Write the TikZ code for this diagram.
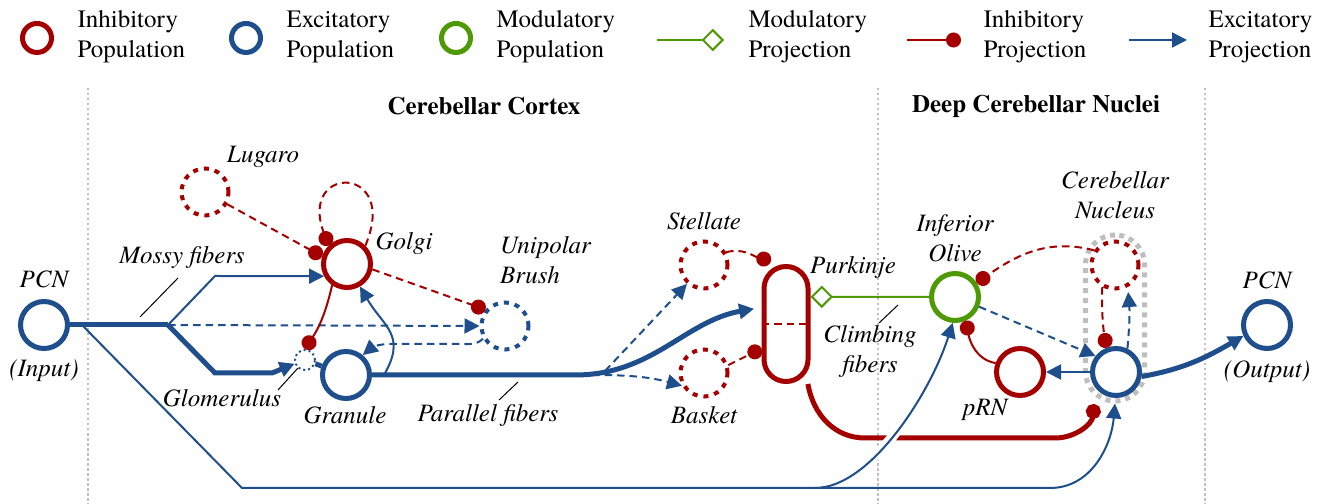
\documentclass[tikz,border=0pt]{standalone}
\usepackage{amsmath,amsfonts,amssymb}
\usepackage{fontspec}
\setmainfont{texgyretermes-regular.otf}[BoldFont=texgyretermes-bold.otf,
  ItalicFont=texgyretermes-italic.otf,BoldItalicFont=texgyretermes-bolditalic.otf]
\usepackage{tikz}
\usetikzlibrary{shapes,positioning}
\usetikzlibrary{arrows.meta,calc}

\definecolor{inhred}{HTML}{A50000}
\definecolor{excblue}{HTML}{1F4E8C}
\definecolor{modgreen}{HTML}{4E9A06}
\definecolor{boxgray}{HTML}{BEBEBE}

\tikzset{
  pop/.style={circle,line width=2pt,minimum size=18.8pt,inner sep=0pt,fill=white},
  inhpop/.style={pop,draw=inhred},
  excpop/.style={pop,draw=excblue},
  modpop/.style={pop,draw=modgreen},
  dotpop/.style={line width=1.6pt,dash pattern=on 2pt off 2.4pt},
  legpop/.style={circle,line width=2pt,minimum size=11.6pt,inner sep=0pt},
  lbl/.style={font=\itshape,inner sep=1pt,align=center},
  legtext/.style={anchor=west,align=left,inner sep=0pt},
  excproj/.style={excblue,line width=0.8pt,-{Triangle[length=6pt,width=6pt]}},
  inhproj/.style={inhred,line width=0.8pt,-{Circle[length=6pt]}},
  modproj/.style={modgreen,line width=0.8pt,-{Diamond[fill=white,length=9pt,width=9pt]}},
  fiber/.style={line width=2pt},
  dashline/.style={dash pattern=on 3pt off 2pt},
  pointer/.style={black,line width=0.4pt},
  divider/.style={black!25,line width=0.5pt,dash pattern=on 1pt off 1pt}
}

\begin{document}
\begin{tikzpicture}[x=0.4pt,y=0.4pt]
\useasboundingbox (0,0) rectangle (1323,504);

\draw[divider] (88,416) -- (88,0);
\draw[divider] (878,416) -- (878,0);
\draw[divider] (1205,416) -- (1205,0);

\node[legpop,draw=inhred] (lginh) at (37,466) {};
\node[legtext] (lginhtxt) at (77,467) {Inhibitory\\Population};
\node[legpop,draw=excblue] (lgexc) at (246,466) {};
\node[legtext] (lgexctxt) at (286,467) {Excitatory\\Population};
\node[legpop,draw=modgreen] (lgmod) at (456,466) {};
\node[legtext] (lgmodtxt) at (496,467) {Modulatory\\Population};
\coordinate (lgmpa) at (657,464);
\coordinate (lgmpb) at (724,464);
\draw[modproj] (lgmpa) -- (lgmpb);
\node[legtext] (lgmptxt) at (748,467) {Modulatory\\Projection};
\coordinate (lgipa) at (907,464);
\coordinate (lgipb) at (961,464);
\draw[inhproj] (lgipa) -- (lgipb);
\node[legtext] (lgiptxt) at (983,467) {Inhibitory\\Projection};
\coordinate (lgepa) at (1129,464);
\coordinate (lgepb) at (1187,464);
\draw[excproj] (lgepa) -- (lgepb);
\node[legtext] (lgeptxt) at (1208,467) {Excitatory\\Projection};

\node[font=\bfseries] (cortexhd) at (484,398) {Cerebellar Cortex};
\node[font=\bfseries] (dcnhd) at (1036,398) {Deep Cerebellar Nuclei};

\node[rectangle,rounded corners=11.8pt,minimum width=23.6pt,minimum height=66.4pt,
      draw=boxgray,line width=2pt,dash pattern=on 2pt off 2pt] (cnbox) at (1115,186) {};
\node[excpop] (pcnin) at (44,179) {};
\node[inhpop,dotpop] (lugaro) at (205,312) {};
\node[inhpop] (golgi) at (347,240) {};
\node[circle,draw=excblue,line width=0.8pt,dash pattern=on 0.8pt off 1.2pt,
      minimum size=8pt,inner sep=0pt,fill=white] (glom) at (305,144) {};
\node[excpop] (granule) at (346,129) {};
\node[excpop,dotpop] (ubc) at (505,178) {};
\node[inhpop,dotpop] (stellate) at (704,239) {};
\node[inhpop,dotpop] (basket) at (704,131) {};
\node[rectangle,rounded corners=8.8pt,minimum width=17.6pt,minimum height=46pt,
      inner sep=0pt,draw=inhred,line width=2pt] (purkinje) at (786,180) {};
\node[modpop] (io) at (955,207) {};
\node[inhpop] (prn) at (1020,132) {};
\node[excpop] (cnexc) at (1116,132) {};
\node[inhpop,dotpop] (cninh) at (1115,239) {};
\node[excpop] (pcnout) at (1267,179) {};

\node[lbl] (pcninlbl) at (44,225) {PCN};
\node[lbl] (inputlbl) at (44,133) {(Input)};
\node[lbl] (lugarolbl) at (263,347) {Lugaro};
\node[lbl] (golgilbl) at (404,260) {Golgi};
\node[lbl] (mflbl) at (182,246) {Mossy fibers};
\node[lbl] (glomlbl) at (222,106) {Glomerulus};
\node[lbl] (granulelbl) at (345,89) {Granule};
\node[lbl,align=left,anchor=west] (ubclbl) at (497,244) {Unipolar\\Brush};
\node[lbl] (pflbl) at (488,88) {Parallel fibers};
\node[lbl] (stellatelbl) at (704,283) {Stellate};
\node[lbl] (basketlbl) at (704,89) {Basket};
\node[lbl] (purkinjelbl) at (853,236) {Purkinje};
\node[lbl] (iolbl) at (955,266) {Inferior\\Olive};
\node[lbl] (cflbl) at (870,152) {Climbing\\fibers};
\node[lbl] (prnlbl) at (985,94) {pRN};
\node[lbl] (cnlbl) at (1115,309) {Cerebellar\\Nucleus};
\node[lbl] (pcnoutlbl) at (1267,224) {PCN};
\node[lbl] (outputlbl) at (1267,132) {(Output)};

\coordinate (pcnsplit) at (82,179);
\coordinate (mf) at (168,179);
\coordinate (pf1) at (384,129);
\coordinate (pf2) at (605,133);
\coordinate (pf3) at (592,129);
\coordinate (iobranch) at (815,16);
\coordinate (pkstel) at (771,243);
\coordinate (cnin) at (1094,100);

\draw[excblue,fiber] (pcnin.east) -- (mf);
\draw[excproj,fiber] (mf) -- (215,131) -- (272,131) -- (glom.200);
\draw[excproj] (mf) -- (215,228) -- (golgi.208);
\draw[excproj,dashline] (mf) -- (ubc.west);
\draw[excproj] (pcnsplit) -- (242,16) -- (1050,16) to[out=0,in=-95] (cnbox.south);

\draw[inhproj,dashline] (golgi.45) .. controls (400,340) and (298,340) .. (golgi.135);
\draw[inhproj,dashline] (lugaro) -- (golgi.163);
\draw[inhproj,dashline] (golgi.-12) -- (ubc.140);
\draw[inhproj] (golgi.235) to[bend left=10] (glom.north);
\draw[excblue,fiber] (glom) -- (granule);
\draw[excproj,dashline] (ubc.210) to[out=225,in=0] (460,160) -- (390,160) to[out=180,in=40] (granule.50);
\draw[excproj] (pf1) to[out=60,in=-60,looseness=1.3] (golgi.300);

\draw[excproj,fiber,shorten >=3pt] (granule.east) -- (575,129) to[out=0,in=190] (purkinje.146);
\draw[excproj,dashline] (pf2) -- (stellate.228);
\draw[excproj,dashline] (pf3) to[out=0,in=165] (basket.210);
\draw[inhproj,dashline] (stellate.30) to[out=15,in=165] (pkstel);
\draw[inhproj,dashline] (basket.18) -- (purkinje.225);
\draw[inhred,dashline,line width=0.8pt] (purkinje.west) -- (purkinje.east);
\draw[modproj] (io.west) -- (purkinje.48);

\draw[inhproj,fiber] (purkinje.-70) to[out=-80,in=180] (865,66) -- (1055,66) to[out=0,in=-95] (cnin);
\begin{scope}
\clip (860,40) rectangle (920,95);
\draw[white,line width=4pt] (iobranch) .. controls (870,16) and (930,110) .. (io.265);
\end{scope}
\draw[excproj] (iobranch) .. controls (870,16) and (930,110) .. (io.265);

\draw[inhproj,dashline] (cninh.145) to[out=165,in=35] (io.33);
\draw[excproj,dashline] (io.-22) -- (cnexc.142);
\draw[inhproj] (prn.160) to[out=170,in=-80] (io.-65);
\draw[excproj] (cnexc) -- (prn);
\draw[inhproj,dashline] (cninh.240) to[bend right=5] (cnexc.112);
\draw[excproj,dashline,shorten >=2pt] (cnexc.64) to[bend right=5] (cninh.-60);
\draw[excproj,fiber] (cnexc.-10) to[out=10,in=210] (pcnout.205);

\coordinate (mfptA) at (140,187);
\coordinate (mfptB) at (178,226);
\draw[pointer] (mfptA) -- (mfptB);
\coordinate (glptA) at (278,114);
\coordinate (glptB) at (298,136);
\draw[pointer] (glptA) -- (glptB);
\coordinate (pfptA) at (499,104);
\coordinate (pfptB) at (518,122);
\draw[pointer] (pfptA) -- (pfptB);
\coordinate (cfptA) at (879,181);
\coordinate (cfptB) at (898,199);
\draw[pointer] (cfptA) -- (cfptB);
\end{tikzpicture}
\end{document}
